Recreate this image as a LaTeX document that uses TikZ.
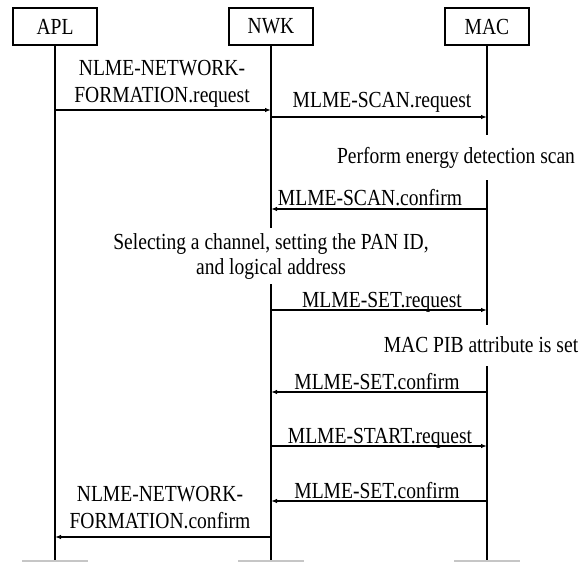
\documentclass[tikz,border=0pt]{standalone}
\usepackage{fontspec}
\setmainfont{Liberation Serif}[FakeStretch=0.85]
\usetikzlibrary{arrows.meta}

\begin{document}
\begin{tikzpicture}[x=1pt,y=-1pt,
	font=\fontsize{23pt}{27pt}\selectfont,
	layer/.style={draw, line width=1.2pt, minimum width=84pt, minimum height=37pt, inner sep=0pt},
	life/.style={line width=1.2pt},
	msg/.style={line width=1.2pt, -{Latex[length=6pt,width=4.5pt]}},
	lbl/.style={align=center, inner sep=0pt},
	foot/.style={line width=1.5pt, gray!45}]
	\useasboundingbox (0,0) rectangle (586,562);
	% layers
	\node [layer] (apl) at (55,26.5) {APL};
	\node [layer] (nwk) at (271,26.5) {NWK};
	\node [layer] (mac) at (487,26.5) {MAC};
	% lifelines
	\coordinate (apl_e) at (55,562);
	\coordinate (nwk_b0) at (271,228);
	\coordinate (nwk_b1) at (271,284);
	\coordinate (nwk_e) at (271,562);
	\coordinate (mac_b0) at (487,135);
	\coordinate (mac_b1) at (487,180);
	\coordinate (mac_b2) at (487,325);
	\coordinate (mac_b3) at (487,366);
	\coordinate (mac_e) at (487,562);
	\draw [life] (apl.south) -- (apl_e);
	\draw [life] (nwk.south) -- (nwk_b0);
	\draw [life] (nwk_b1) -- (nwk_e);
	\draw [life] (mac.south) -- (mac_b0);
	\draw [life] (mac_b1) -- (mac_b2);
	\draw [life] (mac_b3) -- (mac_e);
	\draw [foot] (22,561) -- (88,561);
	\draw [foot] (238,561) -- (304,561);
	\draw [foot] (454,561) -- (520,561);
	% message ends
	\coordinate (a_1) at (55,110);  \coordinate (n_1) at (271,110);
	\coordinate (n_2) at (271,117); \coordinate (m_2) at (487,117);
	\coordinate (m_3) at (487,209); \coordinate (n_3) at (271,209);
	\coordinate (n_4) at (271,310); \coordinate (m_4) at (487,310);
	\coordinate (m_5) at (487,392); \coordinate (n_5) at (271,392);
	\coordinate (n_6) at (271,446); \coordinate (m_6) at (487,446);
	\coordinate (m_7) at (487,501); \coordinate (n_7) at (271,501);
	\coordinate (n_8) at (271,537); \coordinate (a_8) at (55,537);
	\draw [msg] (a_1) -- (n_1);
	\draw [msg] (n_2) -- (m_2);
	\draw [msg] (m_3) -- (n_3);
	\draw [msg] (n_4) -- (m_4);
	\draw [msg] (m_5) -- (n_5);
	\draw [msg] (n_6) -- (m_6);
	\draw [msg] (m_7) -- (n_7);
	\draw [msg] (n_8) -- (a_8);
	% labels
	\node [lbl] (t_1) at (162,84) {NLME-NETWORK-\\FORMATION.request};
	\node [lbl, anchor=base] (t_2) at (382,107) {MLME-SCAN.request};
	\node [lbl, anchor=base] (t_3) at (456,163) {Perform energy detection scan};
	\node [lbl, anchor=base] (t_4) at (370,205) {MLME-SCAN.confirm};
	\node [lbl, font=\fontsize{23pt}{25pt}\selectfont] (t_5) at (271,256) {Selecting a channel, setting the PAN ID,\\and logical address};
	\node [lbl, anchor=base] (t_6) at (382,307) {MLME-SET.request};
	\node [lbl, anchor=base] (t_7) at (481,352) {MAC PIB attribute is set};
	\node [lbl, anchor=base] (t_8) at (377,389) {MLME-SET.confirm};
	\node [lbl, anchor=base] (t_9) at (380,443) {MLME-START.request};
	\node [lbl, anchor=base] (t_10) at (377,498) {MLME-SET.confirm};
	\node [lbl] (t_11) at (160,508) {NLME-NETWORK-\\FORMATION.confirm};
\end{tikzpicture}
\end{document}
